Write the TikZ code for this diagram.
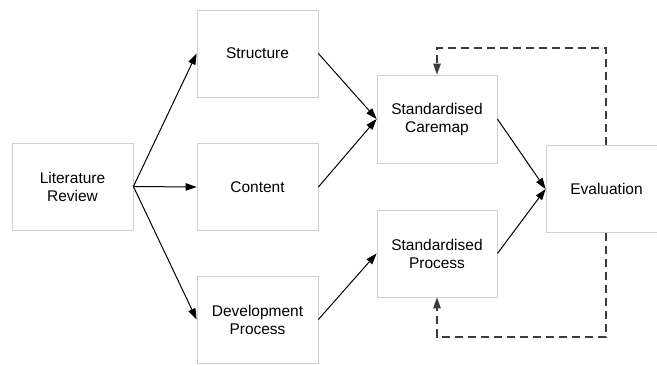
\documentclass[tikz,border=0pt]{standalone}
\usepackage{fontspec}
\setmainfont{Liberation Sans}
\usetikzlibrary{arrows.meta}
\begin{document}
\begin{tikzpicture}[x=1pt,y=-1pt,
  box/.style={draw={rgb,255:red,200;green,208;blue,216}, line width=0.8pt, fill=white,
    minimum width=121pt, minimum height=87pt, inner sep=0pt, align=center,
    font=\fontsize{15.5}{18}\selectfont},
  arr/.style={line width=1pt, -{Triangle[length=11pt,width=7.5pt]}},
  fb/.style={line width=1.3pt, draw={rgb,255:red,60;green,60;blue,60}, dash pattern=on 8pt off 5pt,
    -{Triangle[length=11pt,width=7.5pt]}}]
\useasboundingbox (0,0) rectangle (657,365);
\node[box] (lit) at (72.5,186.5) {Literature\\Review};
\node[box] (str) at (257.5,53.5) {Structure};
\node[box] (con) at (257.5,187) {Content};
\node[box] (dev) at (257.5,319.5) {Development\\Process};
\node[box, minimum width=120pt, minimum height=88pt] (cm) at (437,119) {Standardised\\Caremap};
\node[box, minimum width=120pt, minimum height=87pt] (sp) at (437,253.5) {Standardised\\Process};
\node[box] (ev) at (606.5,189) {Evaluation};
\coordinate (litR) at (lit.east);
\draw[arr] (litR) -- (str.west);
\draw[arr] (litR) -- (con.west);
\draw[arr] (litR) -- (dev.west);
\draw[arr] (str.east) -- (cm.west);
\draw[arr] (con.east) -- (cm.west);
\draw[arr] (dev.east) -- (sp.west);
\draw[arr] (cm.east) -- (ev.west);
\draw[arr] (sp.east) -- (ev.west);
\draw[fb] (ev.north -| 606,0) |- (437,48) -- (cm.north);
\draw[fb] (ev.south -| 606,0) |- (437,337) -- (sp.south);
\end{tikzpicture}
\end{document}
